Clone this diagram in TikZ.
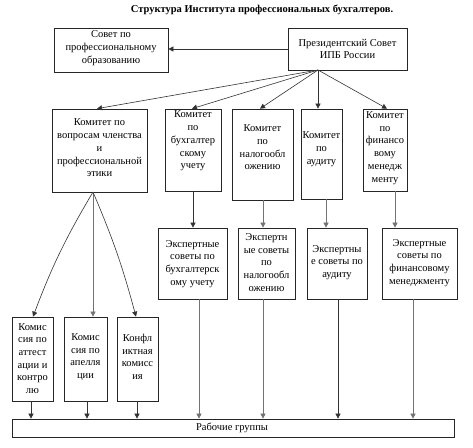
\documentclass[tikz,border=0pt]{standalone}
\usepackage{fontspec}
\setmainfont{Liberation Serif}
\usetikzlibrary{arrows.meta}
\begin{document}
\begin{tikzpicture}[x=1pt,y=-1pt,
  box/.style={draw=black!85, line width=0.7pt, inner sep=0pt, fill=white},
  txt/.style={inner sep=0pt, align=center, font=\fontsize{10.5}{12.7}\selectfont},
  conn/.style={draw=black!80, line width=0.6pt, -{Triangle[width=5pt,length=5pt]}},
  vconn/.style={conn, draw=black!55}]
\useasboundingbox (0,0) rectangle (473,447);
% title
\node[inner sep=0pt, font=\bfseries\fontsize{10.5}{12}\selectfont] (title) at (262,10) {Структура Института профессиональных бухгалтеров.};
% top boxes
\node[box, minimum width=114pt, minimum height=44pt] (sov) at (111,50) {};
\node[txt] (sovT) at (111,48) {Совет по\\профессиональному\\образованию};
\node[box, minimum width=119pt, minimum height=42pt] (pres) at (347.5,49) {};
\node[txt] (presT) at (347.5,49) {Президентский Совет\\ИПБ России};
% committees
\node[box, minimum width=95pt, minimum height=83pt] (c1) at (99.5,150.5) {};
\node[txt] (c1T) at (99.5,148) {Комитет по\\вопросам членства\\и\\профессиональной\\этики};
\node[box, minimum width=56pt, minimum height=82pt] (c2) at (193,150) {};
\node[txt] (c2T) at (193,141) {Комитет\\по\\бухгалтер\\скому\\учету};
\node[box, minimum width=61pt, minimum height=91pt] (c3) at (262.5,154.5) {};
\node[txt] (c3T) at (262.5,147.5) {Комитет\\по\\налогообл\\ожению};
\node[box, minimum width=41pt, minimum height=90pt] (c4) at (321.5,154) {};
\node[txt] (c4T) at (321.5,149) {Комитет\\по\\аудиту};
\node[box, minimum width=44pt, minimum height=82pt] (c5) at (385,150) {};
\node[txt] (c5T) at (385,148) {Комитет\\по\\финансо\\вому\\менедж\\менту};
% expert councils
\node[box, minimum width=69pt, minimum height=71pt] (e1) at (192.5,263.5) {};
\node[txt] (e1T) at (192.5,264) {Экспертные\\советы по\\бухгалтерск\\ому учету};
\node[box, minimum width=57pt, minimum height=71pt] (e2) at (266.5,263.5) {};
\node[txt] (e2T) at (266.5,262.5) {Экспертн\\ые советы\\по\\налогообл\\ожению};
\node[box, minimum width=60pt, minimum height=71pt] (e3) at (337,263.5) {};
\node[txt] (e3T) at (337,262.5) {Экспертны\\е советы по\\аудиту};
\node[box, minimum width=75pt, minimum height=71pt] (e4) at (419.5,263.5) {};
\node[txt] (e4T) at (419.5,263) {Экспертные\\советы по\\финансовому\\менеджменту};
% commissions
\node[box, minimum width=41pt, minimum height=84pt] (k1) at (32.5,359) {};
\node[txt] (k1T) at (32.5,358.5) {Комис\\сия по\\аттест\\ации и\\контро\\лю};
\node[box, minimum width=43pt, minimum height=84pt] (k2) at (85.5,359) {};
\node[txt] (k2T) at (85.5,357) {Комис\\сия по\\апелля\\ции};
\node[box, minimum width=41pt, minimum height=84pt] (k3) at (137.5,359) {};
\node[txt] (k3T) at (137.5,357) {Конфл\\иктная\\комисс\\ия};
% working groups
\node[box, minimum width=442pt, minimum height=18pt] (rg) at (233,428) {};
\node[txt] (rgT) at (232,428) {Рабочие группы};
% connectors
\coordinate (pa) at (318,70);
\coordinate (ca) at (93,192);
\draw[conn] (pres.west) -- (pres.west -| sov.east);
\draw[conn] (pa) -- ([xshift=-2.5pt]c1.north);
\draw[conn] (pa) -- ([xshift=-1pt]c2.north);
\draw[conn] (pa) -- ([xshift=-2.5pt]c3.north);
\draw[conn] (pa) -- (pa |- c4.north);
\draw[conn] (pa) -- ([xshift=2pt]c5.north);
\draw[conn] (ca) to[bend right=5] ([xshift=0.5pt]k1.north);
\draw[vconn] (ca) -- (ca |- k2.north);
\draw[conn] (ca) to[bend left=4] ([xshift=-1.5pt]k3.north);
\draw[conn] (c2.south) -- (c2.south |- e1.north);
\draw[vconn] ([xshift=0.5pt]c3.south) -- ([xshift=0.5pt]c3.south |- e2.north);
\draw[vconn] ([xshift=4.5pt]c4.south) -- ([xshift=4.5pt]c4.south |- e3.north);
\draw[vconn] ([xshift=10pt]c5.south) -- ([xshift=10pt]c5.south |- e4.north);
\draw[vconn] ([xshift=6.5pt]e1.south) -- ([xshift=6.5pt]e1.south |- rg.north);
\draw[vconn] ([xshift=-3.5pt]e2.south) -- ([xshift=-3.5pt]e2.south |- rg.north);
\draw[conn] ([xshift=1pt]e3.south) -- ([xshift=1pt]e3.south |- rg.north);
\draw[vconn] ([xshift=-6.5pt]e4.south) -- ([xshift=-6.5pt]e4.south |- rg.north);
\draw[conn] ([xshift=-1.5pt]k1.south) -- ([xshift=-1.5pt]k1.south |- rg.north);
\draw[conn] ([xshift=1.5pt]k2.south) -- ([xshift=1.5pt]k2.south |- rg.north);
\draw[conn] ([xshift=-0.5pt]k3.south) -- ([xshift=-0.5pt]k3.south |- rg.north);
\end{tikzpicture}
\end{document}
